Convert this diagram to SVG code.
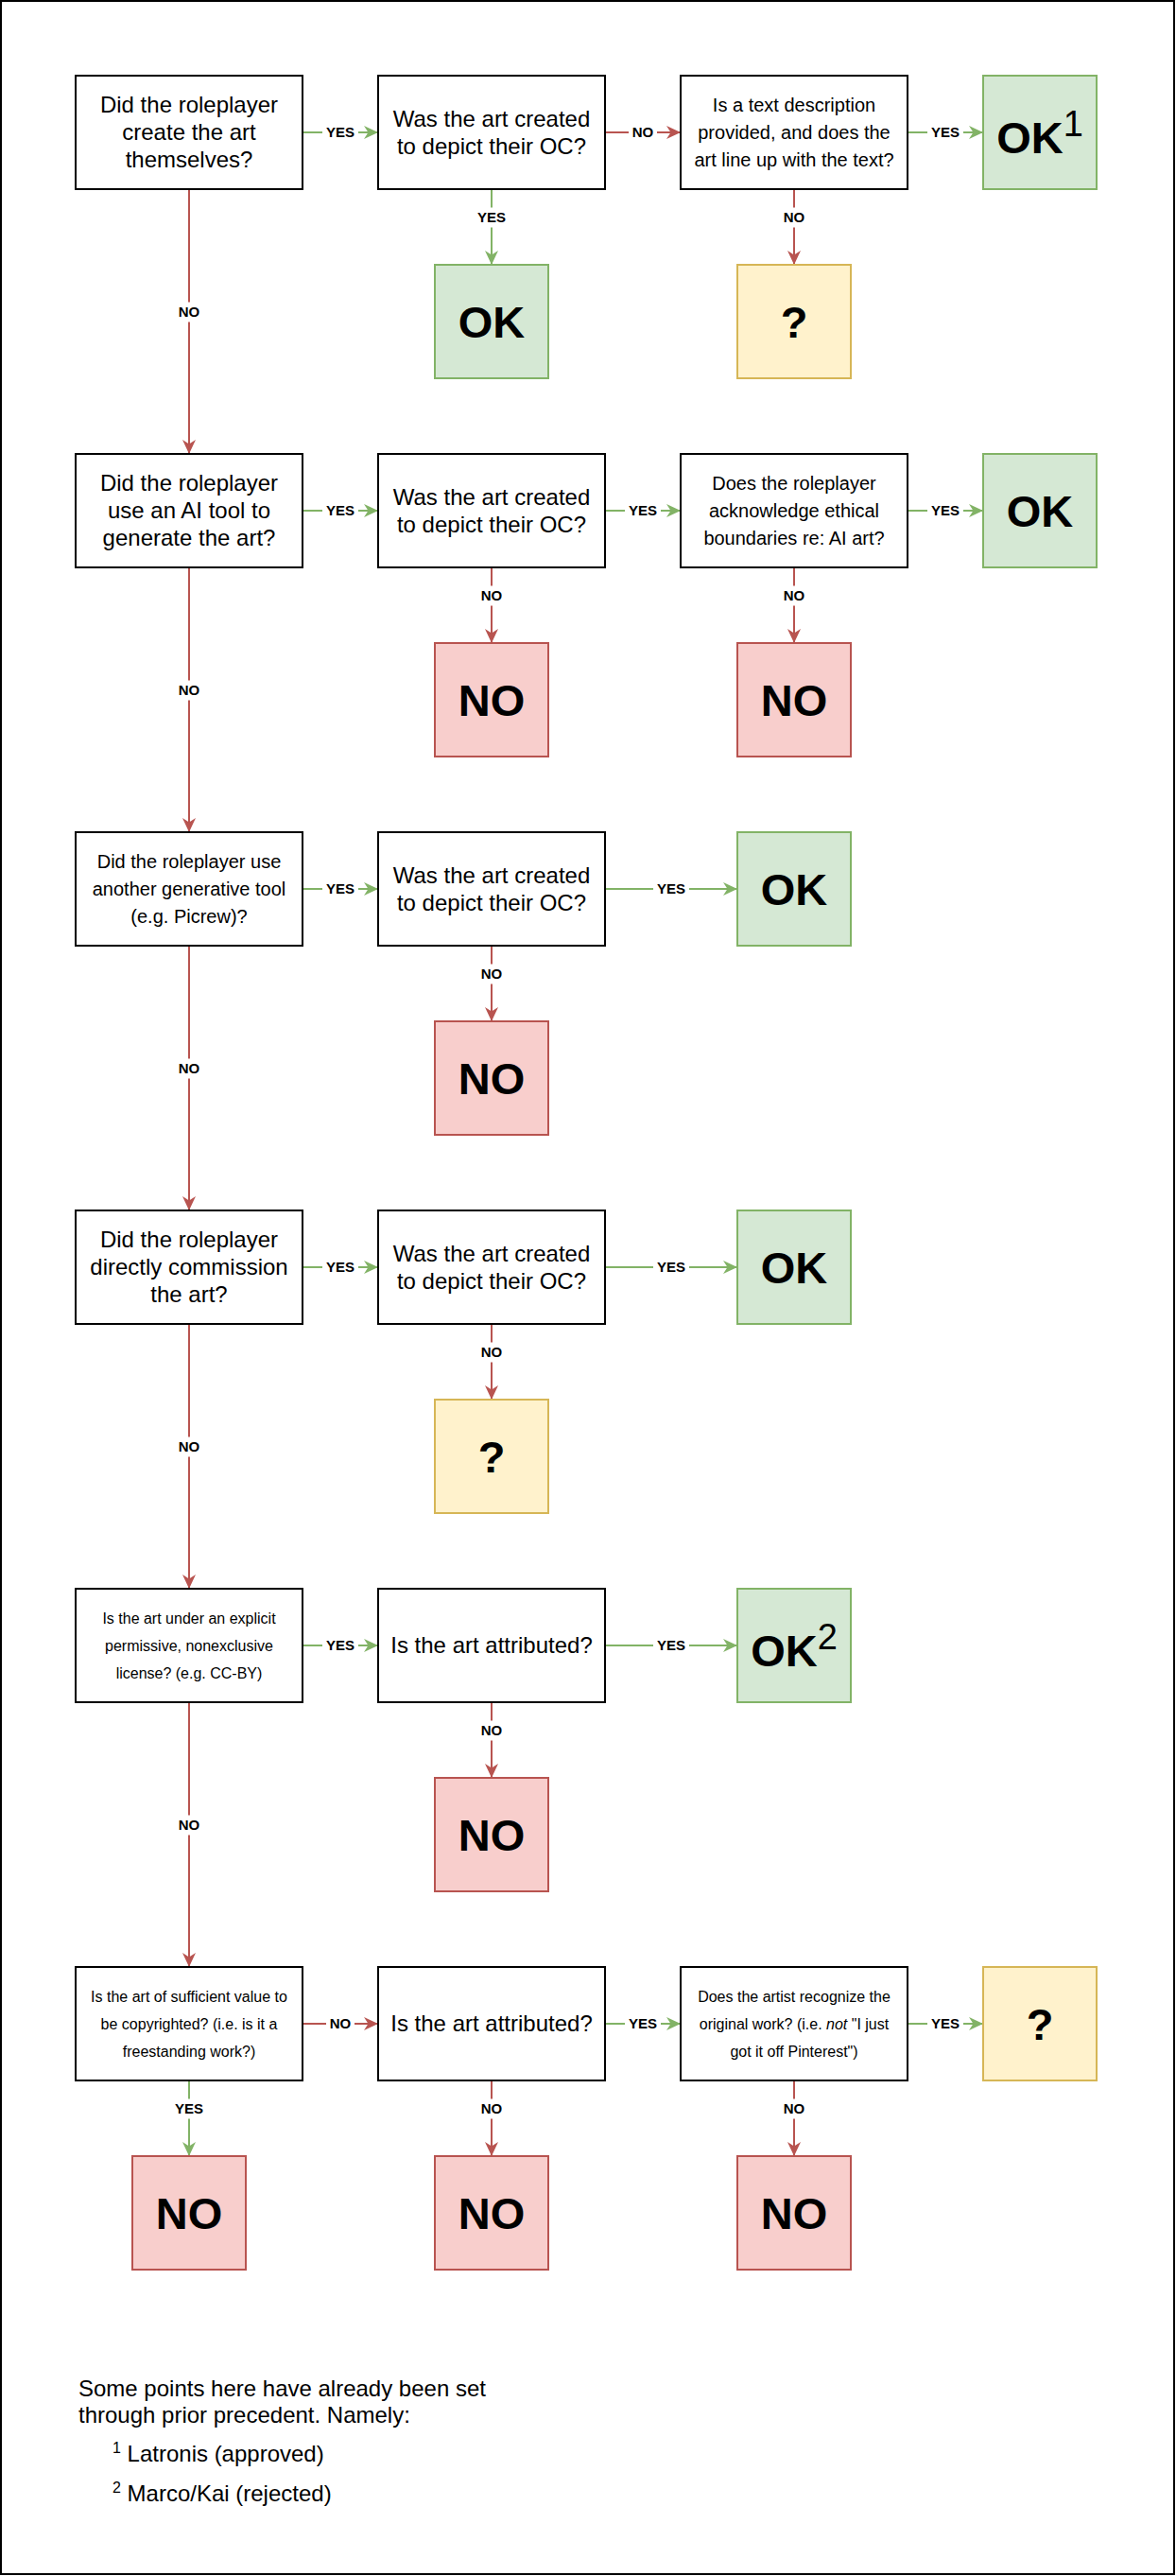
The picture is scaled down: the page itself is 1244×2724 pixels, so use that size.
<svg xmlns="http://www.w3.org/2000/svg" width="1244" height="2724" viewBox="0 0 1244 2724">
<style>
text{font-family:"Liberation Sans",Arial,Helvetica,sans-serif;fill:#000}
.q{fill:#fff;stroke:#000;stroke-width:2}
.g{fill:#d5e8d4;stroke:#82b366;stroke-width:2}
.r{fill:#f8cecc;stroke:#b85450;stroke-width:2}
.y{fill:#fff2cc;stroke:#d6b656;stroke-width:2}
.t24{font-size:24px;text-anchor:middle}
.t20{font-size:20px;text-anchor:middle}
.t16{font-size:16px;text-anchor:middle}
.big{font-size:47px;font-weight:bold;text-anchor:middle}
.sup{font-size:38px;font-weight:normal}
.eg{stroke:#82b366;stroke-width:2;fill:none;marker-end:url(#ag)}
.er{stroke:#b85450;stroke-width:2;fill:none;marker-end:url(#ar)}
.lb{fill:#fff}
.lt{font-size:15px;font-weight:bold;text-anchor:middle}
.ft{font-size:24px}
</style>
<defs>
<marker id="ag" markerUnits="userSpaceOnUse" markerWidth="16" markerHeight="16" viewBox="0 0 16 16" refX="15" refY="8" orient="auto"><path d="M0,1 L15,8 L0,15 L4.5,8 Z" fill="#82b366"/></marker>
<marker id="ar" markerUnits="userSpaceOnUse" markerWidth="16" markerHeight="16" viewBox="0 0 16 16" refX="15" refY="8" orient="auto"><path d="M0,1 L15,8 L0,15 L4.5,8 Z" fill="#b85450"/></marker>
</defs>
<rect x="1" y="1" width="1241" height="2721" fill="#fff" stroke="#000" stroke-width="2"/>

<g id="connectors">
<!-- row 0 -->
<line class="eg" x1="320" y1="140" x2="400" y2="140"/>
<line class="er" x1="640" y1="140" x2="720" y2="140"/>
<line class="eg" x1="960" y1="140" x2="1040" y2="140"/>
<line class="eg" x1="520" y1="200" x2="520" y2="280"/>
<line class="er" x1="840" y1="200" x2="840" y2="280"/>
<line class="er" x1="200" y1="200" x2="200" y2="480"/>
<!-- row 1 -->
<line class="eg" x1="320" y1="540" x2="400" y2="540"/>
<line class="eg" x1="640" y1="540" x2="720" y2="540"/>
<line class="eg" x1="960" y1="540" x2="1040" y2="540"/>
<line class="er" x1="520" y1="600" x2="520" y2="680"/>
<line class="er" x1="840" y1="600" x2="840" y2="680"/>
<line class="er" x1="200" y1="600" x2="200" y2="880"/>
<!-- row 2 -->
<line class="eg" x1="320" y1="940" x2="400" y2="940"/>
<line class="eg" x1="640" y1="940" x2="780" y2="940"/>
<line class="er" x1="520" y1="1000" x2="520" y2="1080"/>
<line class="er" x1="200" y1="1000" x2="200" y2="1280"/>
<!-- row 3 -->
<line class="eg" x1="320" y1="1340" x2="400" y2="1340"/>
<line class="eg" x1="640" y1="1340" x2="780" y2="1340"/>
<line class="er" x1="520" y1="1400" x2="520" y2="1480"/>
<line class="er" x1="200" y1="1400" x2="200" y2="1680"/>
<!-- row 4 -->
<line class="eg" x1="320" y1="1740" x2="400" y2="1740"/>
<line class="eg" x1="640" y1="1740" x2="780" y2="1740"/>
<line class="er" x1="520" y1="1800" x2="520" y2="1880"/>
<line class="er" x1="200" y1="1800" x2="200" y2="2080"/>
<!-- row 5 -->
<line class="er" x1="320" y1="2140" x2="400" y2="2140"/>
<line class="eg" x1="640" y1="2140" x2="720" y2="2140"/>
<line class="eg" x1="960" y1="2140" x2="1040" y2="2140"/>
<line class="eg" x1="200" y1="2200" x2="200" y2="2280"/>
<line class="er" x1="520" y1="2200" x2="520" y2="2280"/>
<line class="er" x1="840" y1="2200" x2="840" y2="2280"/>

<!-- labels -->
<rect class="lb" x="341" y="131" width="38" height="18"/><text class="lt" x="360" y="145.4">YES</text>
<rect class="lb" x="665" y="131" width="30" height="18"/><text class="lt" x="680" y="145.4">NO</text>
<rect class="lb" x="981" y="131" width="38" height="18"/><text class="lt" x="1000" y="145.4">YES</text>
<rect class="lb" x="503" y="219.5" width="34" height="21"/><text class="lt" x="520" y="235.4">YES</text>
<rect class="lb" x="827" y="219.5" width="26" height="21"/><text class="lt" x="840" y="235.4">NO</text>
<rect class="lb" x="187" y="319.5" width="26" height="21"/><text class="lt" x="200" y="335.4">NO</text>

<rect class="lb" x="341" y="531" width="38" height="18"/><text class="lt" x="360" y="545.4">YES</text>
<rect class="lb" x="661" y="531" width="38" height="18"/><text class="lt" x="680" y="545.4">YES</text>
<rect class="lb" x="981" y="531" width="38" height="18"/><text class="lt" x="1000" y="545.4">YES</text>
<rect class="lb" x="507" y="619.5" width="26" height="21"/><text class="lt" x="520" y="635.4">NO</text>
<rect class="lb" x="827" y="619.5" width="26" height="21"/><text class="lt" x="840" y="635.4">NO</text>
<rect class="lb" x="187" y="719.5" width="26" height="21"/><text class="lt" x="200" y="735.4">NO</text>

<rect class="lb" x="341" y="931" width="38" height="18"/><text class="lt" x="360" y="945.4">YES</text>
<rect class="lb" x="691" y="931" width="38" height="18"/><text class="lt" x="710" y="945.4">YES</text>
<rect class="lb" x="507" y="1019.5" width="26" height="21"/><text class="lt" x="520" y="1035.4">NO</text>
<rect class="lb" x="187" y="1119.5" width="26" height="21"/><text class="lt" x="200" y="1135.4">NO</text>

<rect class="lb" x="341" y="1331" width="38" height="18"/><text class="lt" x="360" y="1345.4">YES</text>
<rect class="lb" x="691" y="1331" width="38" height="18"/><text class="lt" x="710" y="1345.4">YES</text>
<rect class="lb" x="507" y="1419.5" width="26" height="21"/><text class="lt" x="520" y="1435.4">NO</text>
<rect class="lb" x="187" y="1519.5" width="26" height="21"/><text class="lt" x="200" y="1535.4">NO</text>

<rect class="lb" x="341" y="1731" width="38" height="18"/><text class="lt" x="360" y="1745.4">YES</text>
<rect class="lb" x="691" y="1731" width="38" height="18"/><text class="lt" x="710" y="1745.4">YES</text>
<rect class="lb" x="507" y="1819.5" width="26" height="21"/><text class="lt" x="520" y="1835.4">NO</text>
<rect class="lb" x="187" y="1919.5" width="26" height="21"/><text class="lt" x="200" y="1935.4">NO</text>

<rect class="lb" x="345" y="2131" width="30" height="18"/><text class="lt" x="360" y="2145.4">NO</text>
<rect class="lb" x="661" y="2131" width="38" height="18"/><text class="lt" x="680" y="2145.4">YES</text>
<rect class="lb" x="981" y="2131" width="38" height="18"/><text class="lt" x="1000" y="2145.4">YES</text>
<rect class="lb" x="183" y="2219.5" width="34" height="21"/><text class="lt" x="200" y="2235.4">YES</text>
<rect class="lb" x="507" y="2219.5" width="26" height="21"/><text class="lt" x="520" y="2235.4">NO</text>
<rect class="lb" x="827" y="2219.5" width="26" height="21"/><text class="lt" x="840" y="2235.4">NO</text>
</g>

<!-- Row 0 -->
<g id="q0a"><rect class="q" x="80" y="80" width="240" height="120"/><text class="t24" x="200"><tspan x="200" y="119.3">Did the roleplayer</tspan><tspan x="200" y="148.3">create the art</tspan><tspan x="200" y="177.3">themselves?</tspan></text></g>
<g id="q0b"><rect class="q" x="400" y="80" width="240" height="120"/><text class="t24"><tspan x="520" y="133.8">Was the art created</tspan><tspan x="520" y="162.8">to depict their OC?</tspan></text></g>
<g id="q0c"><rect class="q" x="720" y="80" width="240" height="120"/><text class="t20"><tspan x="840" y="117.9">Is a text description</tspan><tspan x="840" y="146.9">provided, and does the</tspan><tspan x="840" y="175.9">art line up with the text?</tspan></text></g>
<g id="r0ok1"><rect class="g" x="1040" y="80" width="120" height="120"/><text class="big" x="1100" y="161.5">OK<tspan class="sup" dy="-18">1</tspan></text></g>
<g id="r0ok"><rect class="g" x="460" y="280" width="120" height="120"/><text class="big" x="520" y="356.8">OK</text></g>
<g id="r0q"><rect class="y" x="780" y="280" width="120" height="120"/><text class="big" x="840" y="356.8">?</text></g>

<!-- Row 1 -->
<g id="q1a"><rect class="q" x="80" y="480" width="240" height="120"/><text class="t24"><tspan x="200" y="519.3">Did the roleplayer</tspan><tspan x="200" y="548.3">use an AI tool to</tspan><tspan x="200" y="577.3">generate the art?</tspan></text></g>
<g id="q1b"><rect class="q" x="400" y="480" width="240" height="120"/><text class="t24"><tspan x="520" y="533.8">Was the art created</tspan><tspan x="520" y="562.8">to depict their OC?</tspan></text></g>
<g id="q1c"><rect class="q" x="720" y="480" width="240" height="120"/><text class="t20"><tspan x="840" y="517.9">Does the roleplayer</tspan><tspan x="840" y="546.9">acknowledge ethical</tspan><tspan x="840" y="575.9">boundaries re: AI art?</tspan></text></g>
<g id="r1ok"><rect class="g" x="1040" y="480" width="120" height="120"/><text class="big" x="1100" y="556.8">OK</text></g>
<g id="r1no1"><rect class="r" x="460" y="680" width="120" height="120"/><text class="big" x="520" y="756.8">NO</text></g>
<g id="r1no2"><rect class="r" x="780" y="680" width="120" height="120"/><text class="big" x="840" y="756.8">NO</text></g>

<!-- Row 2 -->
<g id="q2a"><rect class="q" x="80" y="880" width="240" height="120"/><text class="t20"><tspan x="200" y="917.9">Did the roleplayer use</tspan><tspan x="200" y="946.9">another generative tool</tspan><tspan x="200" y="975.9">(e.g. Picrew)?</tspan></text></g>
<g id="q2b"><rect class="q" x="400" y="880" width="240" height="120"/><text class="t24"><tspan x="520" y="933.8">Was the art created</tspan><tspan x="520" y="962.8">to depict their OC?</tspan></text></g>
<g id="r2ok"><rect class="g" x="780" y="880" width="120" height="120"/><text class="big" x="840" y="956.8">OK</text></g>
<g id="r2no"><rect class="r" x="460" y="1080" width="120" height="120"/><text class="big" x="520" y="1156.8">NO</text></g>

<!-- Row 3 -->
<g id="q3a"><rect class="q" x="80" y="1280" width="240" height="120"/><text class="t24"><tspan x="200" y="1319.3">Did the roleplayer</tspan><tspan x="200" y="1348.3">directly commission</tspan><tspan x="200" y="1377.3">the art?</tspan></text></g>
<g id="q3b"><rect class="q" x="400" y="1280" width="240" height="120"/><text class="t24"><tspan x="520" y="1333.8">Was the art created</tspan><tspan x="520" y="1362.8">to depict their OC?</tspan></text></g>
<g id="r3ok"><rect class="g" x="780" y="1280" width="120" height="120"/><text class="big" x="840" y="1356.8">OK</text></g>
<g id="r3q"><rect class="y" x="460" y="1480" width="120" height="120"/><text class="big" x="520" y="1556.8">?</text></g>

<!-- Row 4 -->
<g id="q4a"><rect class="q" x="80" y="1680" width="240" height="120"/><text class="t16"><tspan x="200" y="1716.5">Is the art under an explicit</tspan><tspan x="200" y="1745.5">permissive, nonexclusive</tspan><tspan x="200" y="1774.5">license? (e.g. CC-BY)</tspan></text></g>
<g id="q4b"><rect class="q" x="400" y="1680" width="240" height="120"/><text class="t24" x="520" y="1748.3">Is the art attributed?</text></g>
<g id="r4ok2"><rect class="g" x="780" y="1680" width="120" height="120"/><text class="big" x="840" y="1761.5">OK<tspan class="sup" dy="-18">2</tspan></text></g>
<g id="r4no"><rect class="r" x="460" y="1880" width="120" height="120"/><text class="big" x="520" y="1956.8">NO</text></g>

<!-- Row 5 -->
<g id="q5a"><rect class="q" x="80" y="2080" width="240" height="120"/><text class="t16"><tspan x="200" y="2116.5">Is the art of sufficient value to</tspan><tspan x="200" y="2145.5">be copyrighted? (i.e. is it a</tspan><tspan x="200" y="2174.5">freestanding work?)</tspan></text></g>
<g id="q5b"><rect class="q" x="400" y="2080" width="240" height="120"/><text class="t24" x="520" y="2148.3">Is the art attributed?</text></g>
<g id="q5c"><rect class="q" x="720" y="2080" width="240" height="120"/><text class="t16"><tspan x="840" y="2116.5">Does the artist recognize the</tspan><tspan x="840" y="2145.5">original work? (i.e. <tspan font-style="italic">not</tspan> "I just</tspan><tspan x="840" y="2174.5">got it off Pinterest")</tspan></text></g>
<g id="r5q"><rect class="y" x="1040" y="2080" width="120" height="120"/><text class="big" x="1100" y="2156.8">?</text></g>
<g id="r5no1"><rect class="r" x="140" y="2280" width="120" height="120"/><text class="big" x="200" y="2356.8">NO</text></g>
<g id="r5no2"><rect class="r" x="460" y="2280" width="120" height="120"/><text class="big" x="520" y="2356.8">NO</text></g>
<g id="r5no3"><rect class="r" x="780" y="2280" width="120" height="120"/><text class="big" x="840" y="2356.8">NO</text></g>

<!-- Footnote -->
<g id="footnote">
<text class="ft" x="83" y="2534">Some points here have already been set</text>
<text class="ft" x="83" y="2561.5">through prior precedent. Namely:</text>
<text class="ft" x="119" y="2603"><tspan font-size="16" dy="-9">1</tspan><tspan dy="9"> Latronis (approved)</tspan></text>
<text class="ft" x="119" y="2645"><tspan font-size="16" dy="-9">2</tspan><tspan dy="9"> Marco/Kai (rejected)</tspan></text>
</g>
</svg>
